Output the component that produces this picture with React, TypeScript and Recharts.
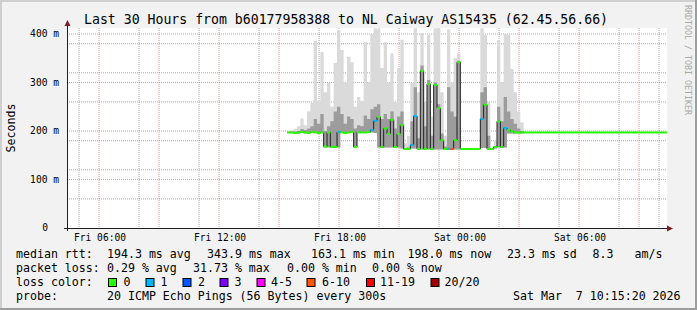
import { ComposedChart, Area, Line, XAxis, YAxis, CartesianGrid } from "recharts";

const W = 697;
const H = 310;
const MONO = '"DejaVu Sans Mono", monospace';
const Y_TOP = 412.4;

// graph starts Fri 04:24, first sample at Fri 15:24, one sample per 10 min
const START_HOUR = 11;
const STEP_HOUR = 1 / 6;

// median rtt (ms) per step
const medianRtt = [
  197, 197, 196, 197, 198, 197, 196, 198, 197, 196,
  197, 168, 197, 167, 167, 198, 197, 196, 197, 198,
  167, 197, 197, 197, 198, 202, 221, 229, 167, 205,
  194, 223, 167, 194, 212, 163, 163, 171, 231, 163,
  324, 163, 297, 163, 295, 247, 181, 163, 163, 163,
  181, 342, 163, 163, 163, 163, 163, 163, 225, 254,
  163, 163, 167, 220, 167, 206, 202, 199, 197, 197,
  197, 197, 197, 197, 197, 197, 197, 197, 197, 197,
  197, 197, 197, 197, 197, 197, 197, 197, 197, 197,
  197, 197, 197, 197, 197, 197, 197, 197, 197, 197,
  197, 197, 197, 197, 197, 197, 197, 197, 197, 197,
  197, 197, 197, 197,
];

// smoke: lowest ping, upper edge of the dense part, highest ping (steps 0-70)
const smokeLow = [
  196, 196, 195, 195, 196, 195, 195, 196, 196, 195,
  196, 166, 166, 165, 165, 166, 196, 195, 196, 196,
  166, 196, 196, 196, 196, 197, 196, 166, 165, 166,
  166, 166, 165, 166, 164, 162, 162, 164, 164, 162,
  162, 162, 162, 162, 162, 162, 162, 162, 162, 162,
  162, 162, 163, 163, 163, 163, 163, 163, 165, 165,
  162, 163, 164, 166, 165, 166, 195, 195, 195, 195,
  195,
];
const smokeMid = [
  198, 199, 199, 200, 204, 202, 205, 210, 225, 215,
  235, 200, 210, 220, 240, 250, 235, 215, 230, 225,
  205, 212, 210, 232, 225, 245, 250, 255, 225, 235,
  225, 240, 205, 230, 240, 165, 166, 220, 290, 185,
  335, 210, 305, 190, 300, 255, 195, 168, 290, 240,
  230, 345, 163, 163, 163, 163, 163, 163, 280, 290,
  190, 163, 168, 250, 220, 270, 240, 225, 215, 205,
  200,
];
const smokeHigh = [
  200, 201, 204, 210, 226, 212, 240, 258, 386, 262,
  363, 280, 299, 250, 340, 408, 367, 300, 353, 342,
  250, 270, 262, 383, 300, 400, 412, 410, 330, 383,
  300, 360, 260, 330, 388, 175, 190, 300, 412, 280,
  402, 260, 398, 230, 412, 412, 280, 190, 410, 300,
  350, 360, 163, 163, 163, 163, 163, 163, 412, 398,
  260, 163, 180, 387, 300, 400, 398, 328, 280, 240,
  218,
];

// [step, lost pings]
const lossSteps: [number, number][] = [
  [15, 1], [25, 1], [26, 1], [37, 1], [38, 1], [48, 1], [49, 7], [58, 1], [65, 1],
];

const xTickHours = [1.6, 7.6, 13.6, 19.6, 25.6];
const xTickLabels = ["Fri 06:00", "Fri 12:00", "Fri 18:00", "Sat 00:00", "Sat 06:00"];
const yTicks = [0, 100, 200, 300, 400];
const yTickLabels = ["0", "100 m", "200 m", "300 m", "400 m"];

const lossLabels = ["0", "1", "2", "3", "4-5", "6-10", "11-19", "20/20"];
const lossColors = ["#26ff00", "#00b8ff", "#0059ff", "#7e00ff", "#ff00ff", "#ff5500", "#ff0000", "#a10000"];

function lossColor(n: number) {
  if (n <= 3) return lossColors[n];
  if (n <= 5) return lossColors[4];
  if (n <= 10) return lossColors[5];
  if (n <= 19) return lossColors[6];
  return lossColors[7];
}

const lossMap = new Map(lossSteps);

const rows = medianRtt.map((m, i) => ({
  t: START_HOUR + i * STEP_HOUR,
  med: m,
  lo: smokeLow[i] ?? m,
  mid: smokeMid[i] ?? m,
  hi: smokeHigh[i] ?? m,
  loss: lossMap.get(i) ?? 0,
}));

// grid: hour lines, red every 3 hours; 20 ms lines, red every 100 ms
const majorX = Array.from({ length: 10 }, (_, k) => 1.6 + 3 * k);
const minorX = Array.from({ length: 30 }, (_, k) => 0.6 + k).filter((_, k) => k % 3 !== 1);
const majorY = [100, 200, 300, 400];
const minorY = Array.from({ length: 20 }, (_, k) => 20 * (k + 1)).filter((v) => v % 100 !== 0);

// eslint-disable-next-line @typescript-eslint/no-explicit-any
function YTick({ y, payload }: any) {
  const label = yTickLabels[yTicks.indexOf(payload.value)];
  return (
    <text x={payload.value === 0 ? 48 : 59} y={y + 3.4} textAnchor="end" fontFamily={MONO} fontSize={9.6} fill="#000">
      {label}
    </text>
  );
}

// eslint-disable-next-line @typescript-eslint/no-explicit-any
function XTick({ x, payload }: any) {
  const label = xTickLabels[xTickHours.indexOf(payload.value)];
  return (
    <text x={x + 1} y={240.5} textAnchor="middle" fontFamily={MONO} fontSize={9.6} fill="#000">
      {label}
    </text>
  );
}

// eslint-disable-next-line @typescript-eslint/no-explicit-any
function StepDot(props: any) {
  const { cx, cy, payload } = props;
  if (cx == null || cy == null) return <g />;
  return <rect x={cx} y={cy - 1} width={3.4} height={2} fill={lossColor(payload.loss)} />;
}

const txt = { fontFamily: MONO, fontSize: 11.6, fill: "#000", whiteSpace: "pre" as const };

const legendRows: { y: number; parts: [number, string][] }[] = [
  {
    y: 258,
    parts: [
      [16, "median rtt:"], [107, "194.3 ms avg"], [207, "343.9 ms max"], [311, "163.1 ms min"],
      [407.5, "198.0 ms now"], [507, "23.3 ms sd"], [592.5, "8.3"], [634.5, "am/s"],
    ],
  },
  {
    y: 272,
    parts: [
      [16, "packet loss:"], [107, "0.29 % avg"], [193, "31.73 % max"], [287, "0.00 % min"], [372, "0.00 % now"],
    ],
  },
  { y: 286, parts: [[16, "loss color:"]] },
  {
    y: 300,
    parts: [[16, "probe:"], [107, "20 ICMP Echo Pings (56 Bytes) every 300s"], [513, "Sat Mar  7 10:15:20 2026"]],
  },
];

const lossBoxX = [108, 145.5, 182.5, 219.5, 256.5, 306.5, 366, 430.5];
const lossTextX = [123.5, 160.5, 198, 234.5, 271, 322, 380, 444.5];

export default function App() {
  return (
    <div style={{ position: "absolute", left: 0, top: 0, width: W, height: H, background: "#f2f2f2" }}>
      <ComposedChart width={W} height={H} data={rows} margin={{ top: 28, right: 30, bottom: 62, left: 7 }}>
        <CartesianGrid
          fill="#ffffff"
          fillOpacity={1}
          stroke="rgba(143,143,143,0.75)"
          strokeDasharray="1 1"
          verticalValues={minorX}
          horizontalValues={minorY}
        />
        <CartesianGrid
          stroke="rgba(222,79,79,0.6)"
          strokeDasharray="1 1"
          verticalValues={majorX}
          horizontalValues={majorY}
        />
        <XAxis
          type="number"
          dataKey="t"
          domain={[0, 30]}
          ticks={xTickHours}
          tick={<XTick />}
          axisLine={false}
          tickLine={false}
          height={20}
          allowDataOverflow
        />
        <YAxis
          type="number"
          domain={[0, Y_TOP]}
          ticks={yTicks}
          tick={<YTick />}
          axisLine={false}
          tickLine={false}
          width={60}
          allowDataOverflow
        />
        <Area
          type="stepAfter"
          dataKey={(d: any) => [d.lo, d.hi]}
          fill="#dadada"
          fillOpacity={1}
          stroke="none"
          isAnimationActive={false}
        />
        <Area
          type="stepAfter"
          dataKey={(d: any) => [d.lo, d.mid]}
          fill="#9c9c9c"
          fillOpacity={1}
          stroke="none"
          isAnimationActive={false}
        />
        <Line
          type="stepAfter"
          dataKey="med"
          stroke="#202020"
          strokeWidth={1}
          dot={(p: any) => <StepDot key={p.index} {...p} />}
          activeDot={false}
          isAnimationActive={false}
        />
      </ComposedChart>

      <svg width={W} height={H} style={{ position: "absolute", left: 0, top: 0, pointerEvents: "none" }}>
        <rect x={0} y={0} width={W} height={2} fill="#cfcfcf" />
        <rect x={0} y={0} width={2} height={H} fill="#cfcfcf" />
        <rect x={0} y={H - 2} width={W} height={2} fill="#9e9e9e" />
        <rect x={W - 2} y={0} width={2} height={H} fill="#9e9e9e" />

        <line x1={64} y1={228.5} x2={668} y2={228.5} stroke="#1f1f1f" strokeWidth={1} />
        <line x1={67.5} y1={231} x2={67.5} y2={24} stroke="#1f1f1f" strokeWidth={1} />
        <polygon points="64.5,26 70.5,26 67.5,20" fill="#801f1f" />
        <polygon points="667,225.5 667,231.5 673,228.5" fill="#801f1f" />

        <text x={84} y={24} fontFamily={MONO} fontSize={13.2} fill="#000">
          Last 30 Hours from b60177958388 to NL Caiway AS15435 (62.45.56.66)
        </text>
        <text
          x={15}
          y={128}
          transform="rotate(-90 15 128)"
          textAnchor="middle"
          fontFamily={MONO}
          fontSize={11.6}
          fill="#000"
        >
          Seconds
        </text>
        <text
          x={685}
          y={60}
          transform="rotate(90 685 60)"
          textAnchor="middle"
          fontFamily={MONO}
          fontSize={8.3}
          fill="#a8a8a8"
        >
          RRDTOOL / TOBI OETIKER
        </text>

        {legendRows.map((r) =>
          r.parts.map(([x, s]) => (
            <text key={`${r.y}-${x}`} x={x} y={r.y} style={txt}>
              {s}
            </text>
          )),
        )}
        {lossLabels.map((l, i) => (
          <g key={l}>
            <rect x={lossBoxX[i] + 0.5} y={278.5} width={8} height={8} fill={lossColors[i]} stroke="#000" strokeWidth={1} />
            <text x={lossTextX[i]} y={286} style={txt}>
              {l}
            </text>
          </g>
        ))}
      </svg>
    </div>
  );
}
